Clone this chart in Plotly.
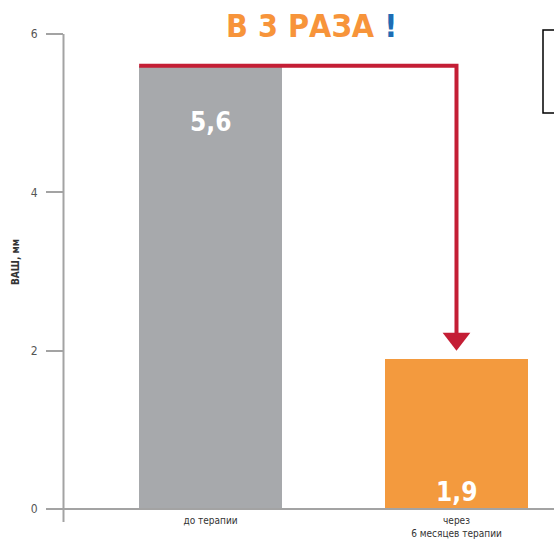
import plotly.graph_objects as go

# Data
categories = ["до терапии", "через<br>6 месяцев терапии"]
values = [5.6, 1.9]
bar_colors = ["#a7a9ac", "#f39a3e"]
y_ticks = [0, 2, 4, 6]
y_title = "ВАШ, мм"
headline = "В 3 РАЗА"

W, H = 554, 544
L, R, T, B = 64, 0, 34, 35
plot_w = W - L - R
plot_h = H - T - B

x_pos = list(range(len(categories)))
bar_w = 0.58
x_range = [-0.5955, -0.5955 + plot_w / 246.0]
y_range = [0, 6]

narrow = "Liberation Sans Narrow, DejaVu Sans Condensed, Arial Narrow, sans-serif"
axis_gray = "#a3a3a3"
red = "#c41e35"


def px_to_paper_x(px):
    return (px - L) / plot_w


def px_to_paper_y(py):
    return (H - B - py) / plot_h


fig = go.Figure()
fig.add_trace(go.Bar(
    x=x_pos, y=values, width=bar_w,
    marker=dict(color=bar_colors, line=dict(width=0)),
    hoverinfo="skip", showlegend=False,
))

# Arrow: along the top of the first bar, then down to the second bar
arrow_gap = 0.09
head_len = 0.32
start_x = x_pos[0] - bar_w / 2
end_x = x_pos[1]
top_y = values[0]
tip_y = values[1] + arrow_gap
fig.add_shape(
    type="path",
    path=f"M {start_x},{top_y} L {end_x},{top_y} L {end_x},{tip_y + head_len * 0.6}",
    xref="x", yref="y",
    line=dict(color=red, width=4),
)
fig.add_trace(go.Scatter(
    x=[end_x], y=[tip_y + head_len / 2], mode="markers",
    marker=dict(symbol="triangle-down", size=24, color=red, line=dict(width=0)),
    hoverinfo="skip", showlegend=False, cliponaxis=False,
))

# Value labels inside the bars
for i, v in enumerate(values):
    txt = f"{v:.1f}".replace(".", ",")
    if i == 0:
        fig.add_annotation(x=x_pos[i], y=v, yshift=-56, text=f"<b>{txt}</b>",
                           showarrow=False, font=dict(family=narrow, size=26, color="white"))
    else:
        fig.add_annotation(x=x_pos[i], y=0, yshift=17, text=f"<b>{txt}</b>",
                           showarrow=False, font=dict(family=narrow, size=26, color="white"))

# Headline
fig.add_annotation(
    x=px_to_paper_x(311), y=px_to_paper_y(26), xref="paper", yref="paper",
    text=f"<b><span style='color:#f7943a'>{headline}</span> <span style='color:#1d6db5'>!</span></b>",
    showarrow=False, font=dict(family=narrow, size=32),
    xanchor="center", yanchor="middle",
)

# Y axis title
fig.add_annotation(
    x=px_to_paper_x(15), y=px_to_paper_y(262), xref="paper", yref="paper",
    text=f"<b>{y_title}</b>", textangle=-90, showarrow=False,
    font=dict(family=narrow, size=10, color="#333333"),
    xanchor="center", yanchor="middle",
)

# Axis lines
fig.add_shape(type="line", xref="paper", yref="paper",
              x0=px_to_paper_x(63.5), x1=px_to_paper_x(63.5),
              y0=1, y1=px_to_paper_y(522),
              line=dict(color=axis_gray, width=2))
fig.add_shape(type="line", xref="paper", yref="paper",
              x0=px_to_paper_x(46), x1=px_to_paper_x(W + 2),
              y0=0, y1=0,
              line=dict(color=axis_gray, width=2))

# Framed box at the top right
fig.add_shape(type="rect", xref="paper", yref="paper",
              x0=px_to_paper_x(543), x1=px_to_paper_x(W + 5),
              y0=px_to_paper_y(113), y1=px_to_paper_y(30),
              line=dict(color="black", width=1.5), fillcolor="rgba(0,0,0,0)")

fig.update_layout(
    width=W, height=H,
    margin=dict(l=L, r=R, t=T, b=B),
    paper_bgcolor="white", plot_bgcolor="white",
    bargap=0,
    xaxis=dict(
        range=x_range, tickvals=x_pos, ticktext=categories,
        showline=False, showgrid=False, zeroline=False, ticks="",
        tickfont=dict(family=narrow, size=10, color="#333333"),
        ticklabelstandoff=4, fixedrange=True,
    ),
    yaxis=dict(
        range=y_range, tickvals=y_ticks,
        showline=False, showgrid=False, zeroline=False,
        ticks="outside", ticklen=17, tickwidth=2, tickcolor=axis_gray,
        tickfont=dict(family=narrow, size=12, color="#555555"),
        ticklabelstandoff=6, fixedrange=True,
    ),
)

fig.write_html("out.html")
